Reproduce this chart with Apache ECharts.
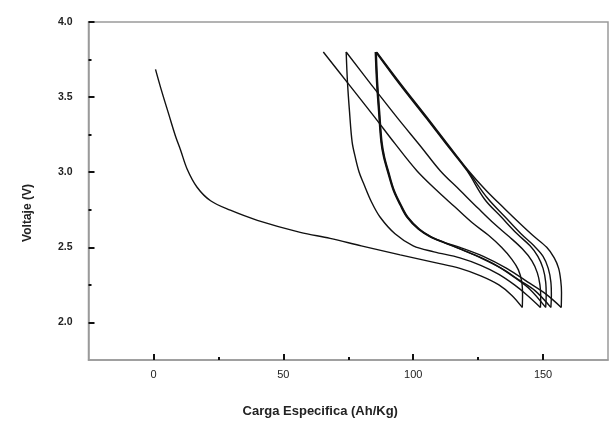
<!DOCTYPE html>
<html>
<head>
<meta charset="utf-8">
<script src="https://cdn.jsdelivr.net/npm/echarts@6/dist/echarts.min.js"></script>
<style>html,body{margin:0;padding:0;background:#fff}#c{width:612px;height:423px}</style>
</head>
<body>
<div id="c"></div>
<script>
// Axis tick values
const xMajorTicks = [0, 50, 100, 150];
const xMinorTicks = [25, 75, 125];
const yMajorTicks = [2.0, 2.5, 3.0, 3.5, 4.0];
const yMinorTicks = [2.25, 2.75, 3.25, 3.75];

// Curves: [specific charge (Ah/Kg), voltage (V)]
const discharge1 = [[0.8,3.685],[3,3.55],[6,3.38],[8.5,3.24],[10.4,3.15],[13,3.02],[16.8,2.90],[22,2.81],[29.6,2.747],[40,2.68],[56.5,2.60],[68,2.56],[80,2.51],[95,2.45],[108,2.40],[118,2.36],[126,2.31],[133,2.25],[138,2.18],[142,2.10]];
const charge1 = [[142,2.10],[142.1,2.18],[141.8,2.27],[140.5,2.35],[138,2.42],[134,2.50],[129,2.58],[123,2.66],[116,2.77],[109,2.88],[101.4,3.01],[93,3.19],[85,3.37],[75,3.59],[65.4,3.80]];
const discharge2 = [[74.2,3.80],[74.7,3.60],[75.5,3.40],[76.5,3.20],[77.7,3.10],[79.2,3.00],[80.8,2.93],[84,2.80],[87.3,2.70],[93,2.59],[100,2.51],[108,2.47],[118,2.43],[126,2.38],[133,2.32],[139,2.25],[144,2.18],[149,2.10]];
const charge2 = [[149,2.10],[149.1,2.17],[148.8,2.25],[147.8,2.33],[145.7,2.41],[142,2.49],[137,2.57],[131,2.66],[125,2.76],[118,2.88],[110.4,3.01],[103,3.17],[94,3.36],[84,3.58],[74.2,3.80]];
const discharge3 = [[85.4,3.80],[85.9,3.60],[86.7,3.40],[87.6,3.20],[88.6,3.10],[90.2,3.00],[92.3,2.88],[95,2.78],[97.6,2.70],[102,2.62],[106.5,2.57],[112,2.53],[118,2.49],[125,2.44],[132,2.38],[139,2.30],[145,2.22],[151,2.10]];
const charge3 = [[151,2.10],[151.2,2.18],[151,2.27],[150,2.36],[148,2.44],[145,2.51],[140,2.59],[134,2.70],[127.5,2.82],[120.7,3.01],[113,3.18],[105,3.36],[95,3.58],[85.6,3.80]];
const discharge4 = [[85.6,3.80],[86.1,3.60],[86.9,3.40],[87.8,3.20],[88.8,3.10],[90.4,3.00],[92.5,2.88],[95.2,2.78],[97.8,2.70],[102.2,2.62],[106.8,2.57],[112.3,2.53],[118,2.49],[126,2.43],[134,2.36],[141,2.28],[147,2.21],[153,2.10]];
const charge4 = [[153,2.10],[153.2,2.18],[153,2.27],[152,2.36],[150,2.44],[146.5,2.51],[141.5,2.59],[135.5,2.70],[128.5,2.83],[121,3.01],[113.3,3.18],[105.3,3.36],[95.3,3.58],[85.8,3.80]];
const discharge5 = [[85.8,3.80],[86.3,3.60],[87.1,3.40],[88,3.20],[89,3.10],[90.6,3.00],[92.7,2.88],[95.4,2.78],[98,2.70],[102.5,2.62],[107,2.57],[112.5,2.53],[118,2.50],[127,2.44],[136,2.36],[144,2.27],[151,2.19],[157,2.10]];
const charge5 = [[157,2.10],[157.1,2.20],[156.8,2.28],[156,2.36],[154.3,2.43],[151.4,2.50],[146,2.58],[141,2.66],[135,2.76],[128,2.88],[121.3,3.01],[113.6,3.18],[105.6,3.36],[95.6,3.58],[86,3.80]];

const curves = [discharge1, charge1, discharge2, charge2, discharge3, charge3, discharge4, charge4, discharge5, charge5];

const chart = echarts.init(document.getElementById('c'), null, {renderer: 'canvas'});
const axisGray = '#9a9a9a';
const txt = '#222';
chart.setOption({
  animation: false,
  backgroundColor: '#fff',
  grid: {left: 88.5, right: 4, top: 22, bottom: 62, show: true, borderColor: axisGray, borderWidth: 1.5, backgroundColor: 'transparent'},
  xAxis: [
    {
      type: 'value', min: -25, max: 175, position: 'bottom',
      name: 'Carga Especifica (Ah/Kg)', nameLocation: 'middle', nameGap: 45,
      nameTextStyle: {fontFamily: 'Liberation Sans', fontSize: 13, fontWeight: 'bold', color: txt, padding: [0, 56, 0, 0]},
      axisLine: {show: true, onZero: false, lineStyle: {color: axisGray, width: 1.5}},
      axisTick: {show: true, inside: true, length: 6, customValues: xMajorTicks, lineStyle: {color: '#111', width: 2}},
      axisLabel: {customValues: xMajorTicks, margin: 9, fontFamily: 'Liberation Sans', fontSize: 11, color: txt},
      splitLine: {show: false}
    },
    {
      type: 'value', min: -25, max: 175, position: 'bottom',
      axisLine: {show: false, onZero: false},
      axisTick: {show: true, inside: true, length: 3, customValues: xMinorTicks, lineStyle: {color: '#111', width: 2}},
      axisLabel: {show: false},
      splitLine: {show: false}
    }
  ],
  yAxis: [
    {
      type: 'value', min: 1.75, max: 4.0, position: 'left',
      name: 'Voltaje (V)', nameLocation: 'middle', nameGap: 55, nameRotate: 90,
      nameTextStyle: {fontFamily: 'Liberation Sans', fontSize: 12, fontWeight: 'bold', color: txt, padding: [0, 44, 0, 0]},
      axisLine: {show: true, onZero: false, lineStyle: {color: axisGray, width: 1.5}},
      axisTick: {show: true, inside: true, length: 6, customValues: yMajorTicks, lineStyle: {color: '#111', width: 2}},
      axisLabel: {customValues: yMajorTicks, margin: 16, fontFamily: 'Liberation Sans', fontSize: 10.5, fontWeight: 'bold', color: txt, formatter: v => v.toFixed(1)},
      splitLine: {show: false}
    },
    {
      type: 'value', min: 1.75, max: 4.0, position: 'left',
      axisLine: {show: false, onZero: false},
      axisTick: {show: true, inside: true, length: 3, customValues: yMinorTicks, lineStyle: {color: '#111', width: 2}},
      axisLabel: {show: false},
      splitLine: {show: false}
    }
  ],
  series: curves.map(c => ({
    type: 'line', xAxisIndex: 0, yAxisIndex: 0, data: c,
    showSymbol: false, smooth: 0.35, clip: true,
    lineStyle: {color: '#111', width: 1.4}
  }))
});
</script>
</body>
</html>
